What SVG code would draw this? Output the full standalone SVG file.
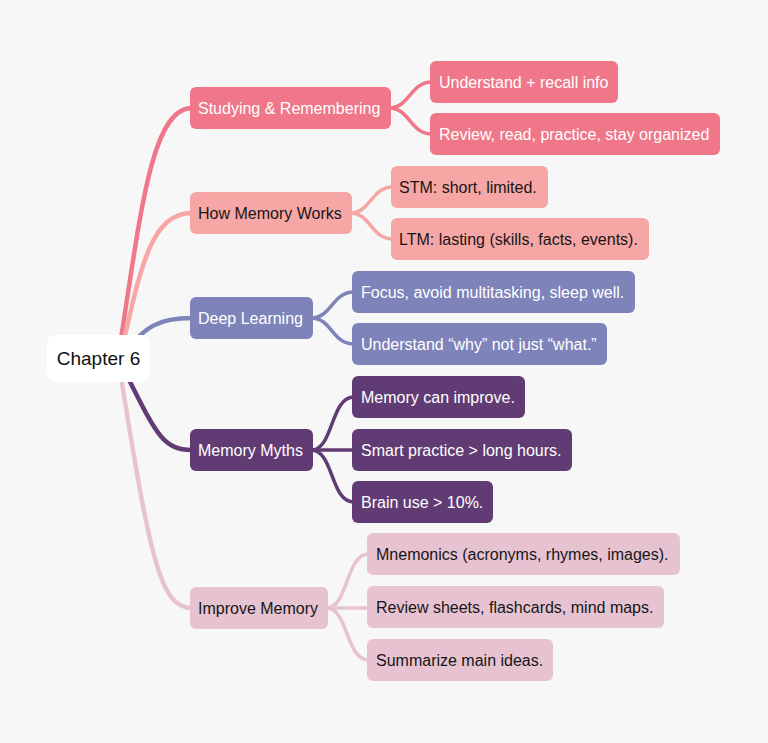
<svg xmlns="http://www.w3.org/2000/svg" width="768" height="743" viewBox="0 0 768 743">
<style>
  text { font-family: "Liberation Sans", Arial, sans-serif; font-size: 16px; }
  .root text { font-size: 19px; fill: #111; }
  .light { fill: #ffffff; }
  .dark { fill: #161616; }
  .c1 { fill: #EF7789; }
  .c2 { fill: #F6A7A5; }
  .c3 { fill: #7E83B9; }
  .c4 { fill: #613C74; }
  .c5 { fill: #E7C3D1; }
  .connectors path { fill: none; stroke-linecap: round; }
  .main { stroke-width: 4.5; }
  .sub { stroke-width: 3.5; }
  .s1 { stroke: #EF7789; }
  .s2 { stroke: #F6A7A5; }
  .s3 { stroke: #7E83B9; }
  .s4 { stroke: #613C74; }
  .s5 { stroke: #E7C3D1; }
</style>
<rect x="0" y="0" width="768" height="743" fill="#F7F7F7"/>
<g id="connectors" class="connectors">
  <path class="main s1" d="M 118 358 C 140 220, 150 108, 192 108"/>
  <path class="main s2" d="M 120 358 C 140 270, 150 213, 192 213"/>
  <path class="main s3" d="M 120 358 C 145 325, 160 318, 192 318"/>
  <path class="main s4" d="M 118 358 C 155 430, 160 450, 192 450"/>
  <path class="main s5" d="M 118 358 C 150 560, 160 608, 192 608"/>
  <path class="sub s1" d="M 389 108 C 410 108, 410 82, 432 82"/>
  <path class="sub s1" d="M 389 108 C 410 108, 410 134, 432 134"/>
  <path class="sub s2" d="M 350 213 C 371 213, 371 187, 393 187"/>
  <path class="sub s2" d="M 350 213 C 371 213, 371 239, 393 239"/>
  <path class="sub s3" d="M 311 318 C 332 318, 332 292, 354 292"/>
  <path class="sub s3" d="M 311 318 C 332 318, 332 344, 354 344"/>
  <path class="sub s4" d="M 311 450 C 334 450, 330 397, 354 397"/>
  <path class="sub s4" d="M 311 450 L 354 450"/>
  <path class="sub s4" d="M 311 450 C 334 450, 330 502, 354 502"/>
  <path class="sub s5" d="M 326 608 C 349 608, 345 554, 369 554"/>
  <path class="sub s5" d="M 326 608 L 369 608"/>
  <path class="sub s5" d="M 326 608 C 349 608, 345 660, 369 660"/>
</g>
<g id="root" class="root">
  <rect x="47" y="335" width="103" height="47" rx="8" fill="#ffffff"/>
  <text x="98.5" y="365" text-anchor="middle">Chapter 6</text>
</g>
<g id="n1">
  <rect class="c1" x="190" y="87" width="201" height="42" rx="6"/>
  <text class="light" x="198" y="114">Studying &amp; Remembering</text>
</g>
<g id="n1a">
  <rect class="c1" x="430" y="61" width="188" height="42" rx="6"/>
  <text class="light" x="439" y="88">Understand + recall info</text>
</g>
<g id="n1b">
  <rect class="c1" x="430" y="113" width="290" height="42" rx="6"/>
  <text class="light" x="439" y="140">Review, read, practice, stay organized</text>
</g>
<g id="n2">
  <rect class="c2" x="190" y="192" width="162" height="42" rx="6"/>
  <text class="dark" x="198" y="219">How Memory Works</text>
</g>
<g id="n2a">
  <rect class="c2" x="391" y="166" width="157" height="42" rx="6"/>
  <text class="dark" x="399" y="193">STM: short, limited.</text>
</g>
<g id="n2b">
  <rect class="c2" x="391" y="218" width="258" height="42" rx="6"/>
  <text class="dark" x="399" y="245">LTM: lasting (skills, facts, events).</text>
</g>
<g id="n3">
  <rect class="c3" x="190" y="297" width="123" height="42" rx="6"/>
  <text class="light" x="198" y="324">Deep Learning</text>
</g>
<g id="n3a">
  <rect class="c3" x="352" y="271" width="283" height="42" rx="6"/>
  <text class="light" x="361" y="298">Focus, avoid multitasking, sleep well.</text>
</g>
<g id="n3b">
  <rect class="c3" x="352" y="323" width="255" height="42" rx="6"/>
  <text class="light" x="361" y="350">Understand “why” not just “what.”</text>
</g>
<g id="n4">
  <rect class="c4" x="190" y="429" width="123" height="42" rx="6"/>
  <text class="light" x="198" y="456">Memory Myths</text>
</g>
<g id="n4a">
  <rect class="c4" x="352" y="376" width="173" height="42" rx="6"/>
  <text class="light" x="361" y="403">Memory can improve.</text>
</g>
<g id="n4b">
  <rect class="c4" x="352" y="429" width="220" height="42" rx="6"/>
  <text class="light" x="361" y="456">Smart practice &gt; long hours.</text>
</g>
<g id="n4c">
  <rect class="c4" x="352" y="481" width="141" height="42" rx="6"/>
  <text class="light" x="361" y="508">Brain use &gt; 10%.</text>
</g>
<g id="n5">
  <rect class="c5" x="190" y="587" width="138" height="42" rx="6"/>
  <text class="dark" x="198" y="614">Improve Memory</text>
</g>
<g id="n5a">
  <rect class="c5" x="367" y="533" width="313" height="42" rx="6"/>
  <text class="dark" x="376" y="560">Mnemonics (acronyms, rhymes, images).</text>
</g>
<g id="n5b">
  <rect class="c5" x="367" y="586" width="297" height="42" rx="6"/>
  <text class="dark" x="376" y="613">Review sheets, flashcards, mind maps.</text>
</g>
<g id="n5c">
  <rect class="c5" x="367" y="639" width="186" height="42" rx="6"/>
  <text class="dark" x="376" y="666">Summarize main ideas.</text>
</g>
</svg>
